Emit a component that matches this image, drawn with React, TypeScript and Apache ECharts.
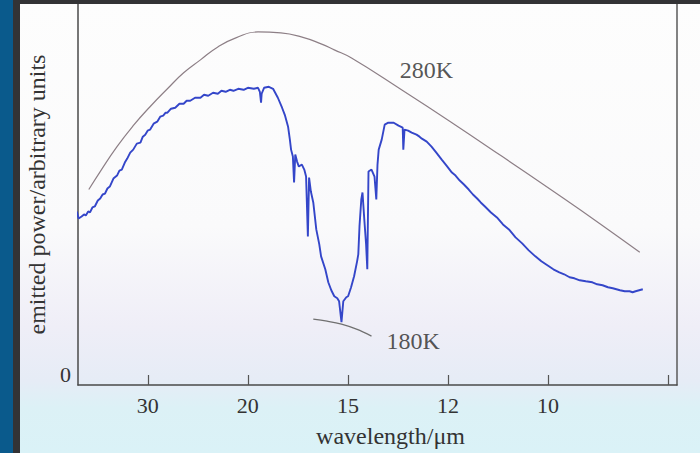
import React, { useEffect, useRef } from "react";
import * as echarts from "echarts";

// Wavenumber (cm^-1) of the measured spectrum points and their emitted power (arbitrary units)
const blueWn = [215,218,223,227,230,234,237,241,245,250,254,258,262,266,270,276,282,286,290,295,299,304,309,315,321,325,329,333,337,343,349,354,359,363,366,372,379,386,393,398,404,412,421,427,434,442,450,456,463,470,476,484,493,500,510,
  517,520,522,523,527,535,542,550,557,562,567,570,572,575,577,579,582,585,590,594,597,600,602,605,609,614,619,622,629,634,639,644,649,652,656,659,664,667,672,677,682,684,686,689,691,694,697,699,701,706,711,714,716,718,723,728,734,743,751,758,759,
  761,767,773,777,781,786,790,798,806,814,823,831,840,846,853,860,868,875,882,888,895,905,915,925,935,946,957,968,979,989,999,1009,1019,1027,1036,1044,1053,1063,1074,1082,1091,1100,1108,1114,1120,1128,1136,1141,1146,1152,1158];
const bluePower = [174,167,169,171,170,174,173,178,179,185,187,191,192,197,199,207,210,215,216,223,227,233,236,242,243,249,251,255,256,262,264,269,270,273,273,277,278,282,282,285,285,288,288,291,290,293,292,295,294,296,295,297,296,298,297,
  298,294,283,292,298,299,297,288,278,270,259,246,236,229,203,231,224,219,221,216,209,149,208,194,183,156,141,129,116,103,95,89,87,84,63,84,88,89,98,109,124,131,159,186,193,166,141,116,214,216,209,186,221,236,246,261,263,263,260,258,236,
  256,255,253,252,251,249,247,244,239,233,226,220,213,210,205,201,196,191,187,183,179,173,168,161,156,148,142,135,129,124,120,116,113,111,108,107,105,104,103,101,100,98,97,96,95,94,94,93,94,95,96];

// 280 K blackbody curve
const bb280Wn = [235,254,282,309,337,366,393,421,450,480,517,555,589,622,644,672,756,840,924,1007,1086,1153];
const bb280Power = [196,214,239,260,279,297,313,326,339,348,354,353,349,342,336,328,296,263,229,195,162,133];

// 180 K blackbody segment
const bb180Wn = [609,632,656,681,706];
const bb180Power = [66,64,61,56,49];

// Axis: labelled wavelengths (µm) and an extra unlabelled tick (cm^-1)
const wavelengthTicks = [30, 20, 15, 12, 10];
const extraTickWn = [1200];

// Curve labels
const curveLabels = [
  { name: "280K", wn: 753, power: 316 },
  { name: "180K", wn: 731, power: 44 },
];

const serif = "'Liberation Serif', 'DejaVu Serif', serif";

export default function App() {
  const ref = useRef<HTMLDivElement>(null);
  useEffect(() => {
    if (!ref.current) return;
    const chart = echarts.init(ref.current, undefined, { renderer: "svg" });
    const labelWn = wavelengthTicks.map((l) => 10000 / l);
    const tickWn = [...labelWn, ...extraTickWn];
    chart.setOption({
      animation: false,
      backgroundColor: "transparent",
      grid: { left: 78, right: 23, top: 4, bottom: 67 },
      xAxis: {
        type: "value",
        min: 217,
        max: 1215,
        axisLine: { show: true, lineStyle: { color: "#4a4a4a", width: 1.5 } },
        axisTick: {
          show: true,
          inside: true,
          length: 10,
          customValues: tickWn,
          lineStyle: { color: "#555", width: 1.2 },
        },
        axisLabel: {
          customValues: labelWn,
          formatter: (v: number) => String(Math.round(10000 / v)),
          fontFamily: serif,
          fontSize: 22,
          color: "#333",
          margin: 9,
        },
        splitLine: { show: false },
        name: "wavelength/μm",
        nameLocation: "middle",
        nameGap: 39,
        nameTextStyle: { fontFamily: serif, fontSize: 24, color: "#333", padding: [0, 0, 0, 26] },
      },
      yAxis: [
        {
          type: "value",
          min: 0,
          max: 382,
          axisLine: { show: true, lineStyle: { color: "#4a4a4a", width: 1.5 } },
          axisTick: { show: false },
          axisLabel: {
            customValues: [0],
            fontFamily: serif,
            fontSize: 22,
            color: "#333",
            margin: 7,
            verticalAlign: "bottom",
          },
          splitLine: { show: false },
          name: "emitted power/arbitrary units",
          nameLocation: "middle",
          nameGap: 21,
          nameTextStyle: { fontFamily: serif, fontSize: 24, color: "#333" },
        },
        {
          type: "value",
          min: 0,
          max: 382,
          position: "right",
          axisLine: { show: true, lineStyle: { color: "#5a5a5a", width: 1.5 } },
          axisTick: { show: false },
          axisLabel: { show: false },
          splitLine: { show: false },
        },
      ],
      series: [
        {
          type: "line",
          data: bb280Wn.map((w, i) => [w, bb280Power[i]]),
          showSymbol: false,
          smooth: 0.5,
          lineStyle: { color: "#8d7f86", width: 1.2 },
          silent: true,
        },
        {
          type: "line",
          data: bb180Wn.map((w, i) => [w, bb180Power[i]]),
          showSymbol: false,
          smooth: 0.4,
          lineStyle: { color: "#707070", width: 1.2 },
          silent: true,
        },
        {
          type: "line",
          data: blueWn.map((w, i) => [w, bluePower[i]]),
          showSymbol: false,
          lineStyle: { color: "#3446c9", width: 1.9 },
          silent: true,
        },
        {
          type: "scatter",
          symbolSize: 0,
          silent: true,
          data: curveLabels.map((c) => ({ name: c.name, value: [c.wn, c.power] })),
          label: {
            show: true,
            position: "right",
            distance: 0,
            formatter: (p: any) => p.name,
            fontFamily: serif,
            fontSize: 24,
            color: "#2a2a2a",
          },
        },
      ],
      graphic: [
        { type: "rect", z: 100, shape: { x: 0, y: 0, width: 13, height: 453 }, style: { fill: "#0a5a8c" } },
        { type: "rect", z: 100, shape: { x: 13, y: 0, width: 7, height: 453 }, style: { fill: "#333335" } },
        { type: "rect", z: 100, shape: { x: 13, y: 0, width: 687, height: 4 }, style: { fill: "#333335" } },
      ],
    });
    return () => chart.dispose();
  }, []);
  return (
    <div
      ref={ref}
      style={{
        position: "fixed",
        left: 0,
        top: 0,
        width: 700,
        height: 453,
        background:
          "linear-gradient(to bottom, #fdfdfd 0%, #fafafb 50%, #efeef7 72%, #e6ecf6 84%, #dcf1f6 90%, #daf2f7 100%)",
      }}
    />
  );
}
